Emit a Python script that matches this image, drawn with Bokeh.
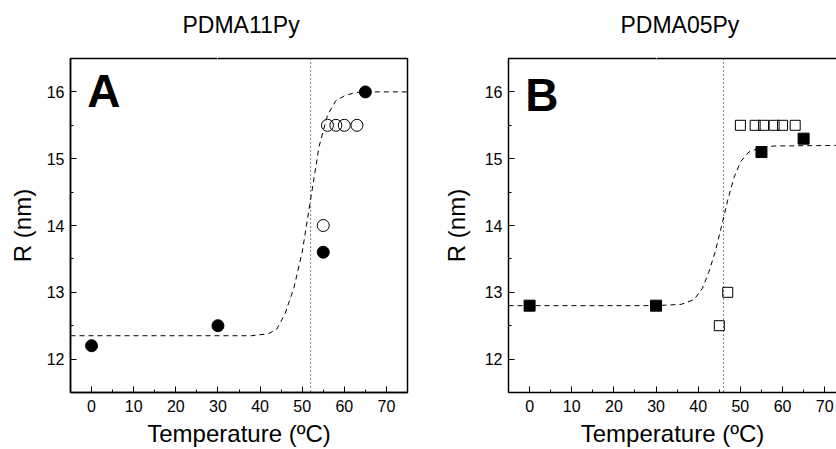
from bokeh.plotting import figure
from bokeh.layouts import row
from bokeh.models import Span, Label, LinearAxis, SingleIntervalTicker, FixedTicker, Range1d, Title
from bokeh.embed import file_html
from bokeh.resources import INLINE

# ---------------- data ----------------
titles = ["PDMA11Py", "PDMA05Py"]
panel_letters = ["A", "B"]
x_label = "Temperature (ºC)"
y_label = "R (nm)"

# Panel A (PDMA11Py)
A_filled_T = [0, 30, 55, 65]
A_filled_R = [12.2, 12.5, 13.6, 16.0]
A_open_T = [55, 56, 58, 60, 63]
A_open_R = [14.0, 15.5, 15.5, 15.5, 15.5]
A_fit_T = [-5, 38, 42, 44, 46, 48, 50, 52, 54, 56, 58, 60, 62, 64, 75]
A_fit_R = [12.35, 12.35, 12.38, 12.45, 12.69, 13.06, 13.6, 14.39, 15.18, 15.65, 15.87, 15.94, 15.98, 16.0, 16.0]
A_transition = 52

# Panel B (PDMA05Py)
B_filled_T = [0, 30, 55, 65]
B_filled_R = [12.8, 12.8, 15.1, 15.3]
B_open_T = [45, 47, 50, 53.5, 55.5, 58, 60, 63]
B_open_R = [12.5, 13.0, 15.5, 15.5, 15.5, 15.5, 15.5, 15.5]
B_fit_T = [-5, 30, 36, 39, 41, 42.5, 44, 45.5, 47, 48.5, 50, 52, 55, 58, 75]
B_fit_R = [12.8, 12.8, 12.82, 12.89, 13.06, 13.3, 13.6, 13.98, 14.38, 14.72, 14.95, 15.1, 15.17, 15.19, 15.2]
B_transition = 46

FONT = "Liberation Sans"


def style(p, ylab_standoff):
    p.xaxis.ticker = SingleIntervalTicker(interval=10, num_minor_ticks=2)
    p.yaxis.ticker = SingleIntervalTicker(interval=1, num_minor_ticks=2)
    for ax in (p.xaxis[0], p.yaxis[0]):
        ax.axis_line_color = "black"
        ax.axis_line_width = 1.5
        ax.major_tick_in = 6
        ax.major_tick_out = 0
        ax.minor_tick_in = 3
        ax.minor_tick_out = 0
        ax.major_tick_line_color = "black"
        ax.minor_tick_line_color = "black"
        ax.major_label_text_font = FONT
        ax.major_label_text_font_size = "16px"
        ax.major_label_text_color = "black"
        ax.axis_label_text_font = FONT
        ax.axis_label_text_font_size = "24px"
        ax.axis_label_text_font_style = "normal"
        ax.axis_label_text_color = "black"
    p.xaxis.major_label_standoff = 7
    p.yaxis.major_label_standoff = 6
    p.xaxis.axis_label_standoff = 5
    p.yaxis.axis_label_standoff = ylab_standoff
    p.xaxis.axis_label = x_label
    p.yaxis.axis_label = y_label
    p.xgrid.visible = False
    p.ygrid.visible = False
    p.background_fill_color = "white"
    p.border_fill_color = "white"


def make_panel(title, letter, fT, fR, oT, oR, fitT, fitR, trans, marker,
               fsize, osize, width, left, right, xmax, outline, ylab_standoff, letter_dy):
    p = figure(width=width, height=449, output_backend="svg", toolbar_location=None,
               x_range=Range1d(-5, xmax), y_range=Range1d(11.5, 16.5),
               min_border_left=left, min_border_right=right,
               min_border_top=58, min_border_bottom=53)
    style(p, ylab_standoff)
    if outline:
        p.outline_line_color = "black"
        p.outline_line_width = 1.5
    else:
        p.outline_line_color = None
    # top frame line (and invisible spacer that lifts the title)
    top = LinearAxis(ticker=FixedTicker(ticks=[30]),
                     axis_line_color=None if outline else "black",
                     axis_line_width=1.5, major_tick_line_color="white",
                     minor_tick_line_color=None, major_tick_in=0, major_tick_out=21,
                     minor_tick_in=0, minor_tick_out=0, major_label_standoff=0,
                     major_label_overrides={30: ""},
                     major_label_text_font_size="1px")
    p.add_layout(top, "above")
    p.add_layout(Title(text=title, text_font=FONT, text_font_size="23px",
                       text_font_style="normal", text_color="black", align="left",
                       offset=112, standoff=0, vertical_align="bottom"), "above")

    p.add_layout(Span(location=trans, dimension="height", line_color="black",
                      line_dash="1 3", line_width=1))
    p.line(fitT, fitR, line_color="black", line_dash="5 4", line_width=1)
    p.scatter(oT, oR, marker=marker, size=osize, fill_color=None,
              line_color="black", line_width=1)
    p.scatter(fT, fR, marker=marker, size=fsize, fill_color="black",
              line_color="black", line_width=1)

    p.add_layout(Label(x=-1.0, y=16.0, y_offset=letter_dy, text=letter, text_font=FONT,
                       text_font_size="46px", text_font_style="bold",
                       text_color="black", text_align="left",
                       text_baseline="alphabetic"))
    return p


pA = make_panel(titles[0], panel_letters[0], A_filled_T, A_filled_R, A_open_T, A_open_R,
                A_fit_T, A_fit_R, A_transition, "circle", 12, 12,
                416, 70, 9, 75, True, 8, 1)
pB = make_panel(titles[1], panel_letters[1], B_filled_T, B_filled_R, B_open_T, B_open_R,
                B_fit_T, B_fit_R, B_transition, "square", 11, 10,
                420, 92, 0, 72.8, False, 12, -3)

layout = row(pA, pB)
open("out.html", "w").write(file_html(layout, INLINE))
